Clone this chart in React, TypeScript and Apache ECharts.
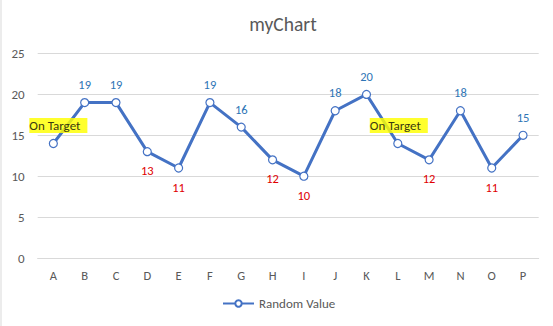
import React, { useEffect, useRef } from "react";
import * as echarts from "echarts";

const categories = ["A", "B", "C", "D", "E", "F", "G", "H", "I", "J", "K", "L", "M", "N", "O", "P"];
const values = [14, 19, 19, 13, 11, 19, 16, 12, 10, 18, 20, 14, 12, 18, 11, 15];
const onTargetCategories = ["A", "L"];
const yTicks = { min: 0, max: 25, interval: 5 };
const seriesName = "Random Value";
const titleText = "myChart";
const threshold = 15;

const FONT = "Carlito, Lato, 'Liberation Sans', sans-serif";

export default function App() {
  const ref = useRef<HTMLDivElement>(null);
  useEffect(() => {
    if (!ref.current) return;
    const chart = echarts.init(ref.current, undefined, { renderer: "svg" });
    const data = values.map((v, i) => {
      const cat = categories[i];
      if (onTargetCategories.includes(cat)) {
        return {
          value: v,
          label: {
            show: true,
            position: "top",
            distance: 6,
            formatter: "On Target",
            color: "#3a3a10",
            fontSize: 13,
            fontFamily: FONT,
            backgroundColor: "rgba(255,255,0,0.82)",
            padding: [1, 7, 1, 0],
            offset: i === 0 ? [5, 0] : [1, 0],
          },
        };
      }
      const above = v >= threshold;
      return {
        value: v,
        label: {
          show: true,
          position: above ? "top" : "bottom",
          distance: above ? 7 : 8,
          color: above ? "#2E75B6" : "#E00000",
          fontSize: 12.5,
          fontFamily: FONT,
        },
      };
    });
    chart.setOption({
      animation: false,
      backgroundColor: "#ffffff",
      title: {
        text: titleText,
        left: 278,
        textAlign: "center",
        top: 9,
        textStyle: { color: "#595959", fontSize: 19.5, fontWeight: "normal", fontFamily: FONT },
      },
      grid: { left: 37.7, right: 14.3, top: 53.5, bottom: 68 },
      legend: {
        data: [seriesName],
        left: 222,
        top: 297,
        padding: 0,
        itemWidth: 31,
        itemHeight: 8,
        itemGap: 4,
        textStyle: { color: "#595959", fontSize: 13, fontFamily: FONT },
      },
      xAxis: {
        type: "category",
        data: categories,
        boundaryGap: true,
        axisLine: { show: true, lineStyle: { color: "#d9d9d9" } },
        axisTick: { show: false },
        axisLabel: { color: "#595959", fontSize: 12.5, fontFamily: FONT, margin: 11 },
      },
      yAxis: {
        type: "value",
        min: yTicks.min,
        max: yTicks.max,
        interval: yTicks.interval,
        axisLine: { show: false },
        axisTick: { show: false },
        axisLabel: { color: "#595959", fontSize: 13, fontFamily: FONT, margin: 13 },
        splitLine: { lineStyle: { color: "#d9d9d9", width: 1 } },
      },
      graphic: [
        {
          type: "line",
          shape: { x1: 1, y1: 0, x2: 1, y2: 326 },
          style: { stroke: "#d9d9d9", lineWidth: 1 },
        },
      ],
      series: [
        {
          name: seriesName,
          type: "line",
          data,
          symbol: "circle",
          symbolSize: 8,
          lineStyle: { color: "#4472C4", width: 3 },
          itemStyle: { color: "#ffffff", borderColor: "#4472C4", borderWidth: 1.2 },
          z: 2,
        },
      ],
    });
    return () => chart.dispose();
  }, []);
  return (
    <div
      ref={ref}
      style={{ position: "fixed", left: 0, top: 0, width: 553, height: 326 }}
    />
  );
}
